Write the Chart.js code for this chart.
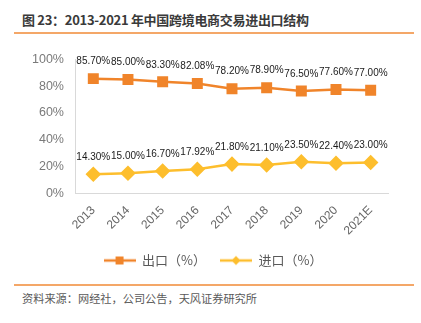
<!DOCTYPE html>
<html>
<head>
<meta charset="utf-8">
<script src="https://cdn.jsdelivr.net/npm/chart.js@4.4.1/dist/chart.umd.min.js"></script>
<style>
  body { margin: 0; background: #fff; }
  #page { position: relative; width: 421px; height: 323px; overflow: hidden; }
  #title { position: absolute; left: 22px; top: 10px; font: bold 13px "Noto Sans CJK SC", sans-serif; letter-spacing: -0.3px; color: #3a3a3a; white-space: nowrap; }
  .rule { position: absolute; left: 14px; width: 400px; height: 2px; background: #f4a768; }
  #box { position: absolute; left: 0; top: 40px; width: 421px; height: 240px; }
  #source { position: absolute; left: 22px; top: 290px; font: 11.2px "Noto Sans CJK SC", sans-serif; color: #595959; white-space: nowrap; }
</style>
</head>
<body>
<div id="page">
  <div id="title">图 23：2013-2021 年中国跨境电商交易进出口结构</div>
  <div class="rule" style="top:32px"></div>
  <div id="box"><canvas id="myChart"></canvas></div>
  <div class="rule" style="top:284px"></div>
  <div id="source">资料来源：网经社，公司公告，天风证券研究所</div>
</div>
<script>
// years and shares (%)
var years = ["2013", "2014", "2015", "2016", "2017", "2018", "2019", "2020", "2021E"];
var exportShare = [85.70, 85.00, 83.30, 82.08, 78.20, 78.90, 76.50, 77.60, 77.00];
var importShare = [14.30, 15.00, 16.70, 17.92, 21.80, 21.10, 23.50, 22.40, 23.00];
var seriesNames = ["出口（%）", "进口（%）"];
var seriesColors = ["#f0842a", "#fdbe2d"];

// little line+marker swatch for the legend
function swatch(color, shape) {
  var c = document.createElement("canvas");
  c.width = 32; c.height = 12;
  var g = c.getContext("2d");
  g.strokeStyle = color; g.fillStyle = color; g.lineWidth = 2.5;
  g.beginPath(); g.moveTo(0, 6); g.lineTo(32, 6); g.stroke();
  g.beginPath();
  if (shape == "rect") {
    g.rect(12, 2, 8, 8);
  } else {
    g.moveTo(16, 1.5); g.lineTo(20.5, 6); g.lineTo(16, 10.5); g.lineTo(11.5, 6); g.closePath();
  }
  g.fill();
  return c;
}
var swatches = [swatch(seriesColors[0], "rect"), swatch(seriesColors[1], "rectRot")];

// value labels above each point
var valueLabels = {
  id: "valueLabels",
  afterDatasetsDraw: function(chart) {
    var ctx = chart.ctx;
    ctx.save();
    ctx.font = "10px 'Liberation Sans', Arial, sans-serif";
    ctx.fillStyle = "#1a1a1a";
    ctx.textAlign = "center";
    ctx.textBaseline = "middle";
    chart.data.datasets.forEach(function(ds, i) {
      chart.getDatasetMeta(i).data.forEach(function(pt, j) {
        ctx.fillText(ds.data[j].toFixed(2) + "%", pt.x, pt.y - 17);
      });
    });
    ctx.restore();
  }
};

// nudge the legend a little to the right
var legendShift = {
  id: "legendShift",
  afterLayout: function(chart) {
    chart.legend.left += 9;
    chart.legend.right += 9;
  }
};

new Chart("myChart", {
  type: "line",
  data: {
    labels: years,
    datasets: [{
      label: seriesNames[0],
      data: exportShare,
      borderColor: seriesColors[0],
      backgroundColor: seriesColors[0],
      borderWidth: 2.5,
      pointStyle: "rect",
      pointRadius: 6,
      pointHoverRadius: 6
    }, {
      label: seriesNames[1],
      data: importShare,
      borderColor: seriesColors[1],
      backgroundColor: seriesColors[1],
      borderWidth: 2.5,
      pointStyle: "rectRot",
      pointRadius: 6,
      pointHoverRadius: 6
    }]
  },
  options: {
    responsive: true,
    maintainAspectRatio: false,
    animation: false,
    layout: { padding: { left: 20, right: 33, top: 15, bottom: 3 } },
    plugins: {
      tooltip: { enabled: false },
      legend: {
        position: "bottom",
        labels: {
          usePointStyle: true,
          pointStyleWidth: 32,
          padding: 14,
          color: "#595959",
          font: { size: 13, family: "'Noto Sans CJK SC', sans-serif" },
          generateLabels: function(chart) {
            return chart.data.datasets.map(function(ds, i) {
              return { text: ds.label, pointStyle: swatches[i], fontColor: "#595959", datasetIndex: i, lineWidth: 0, strokeStyle: "transparent", fillStyle: "transparent" };
            });
          }
        }
      }
    },
    scales: {
      x: {
        offset: true,
        grid: { display: false },
        border: { color: "#d9d9d9" },
        ticks: {
          padding: 2,
          color: "#666666",
          maxRotation: 45,
          minRotation: 45,
          font: { size: 12, family: "'Liberation Sans', Arial, sans-serif" }
        }
      },
      y: {
        min: 0,
        max: 100,
        grid: { display: false, drawTicks: false },
        border: { color: "#d9d9d9" },
        ticks: {
          stepSize: 20,
          padding: 12,
          color: "#7a7a7a",
          font: { size: 12.5, family: "'Liberation Sans', Arial, sans-serif" },
          callback: function(v) { return v + "%"; }
        }
      }
    }
  },
  plugins: [valueLabels, legendShift]
});
</script>
</body>
</html>
